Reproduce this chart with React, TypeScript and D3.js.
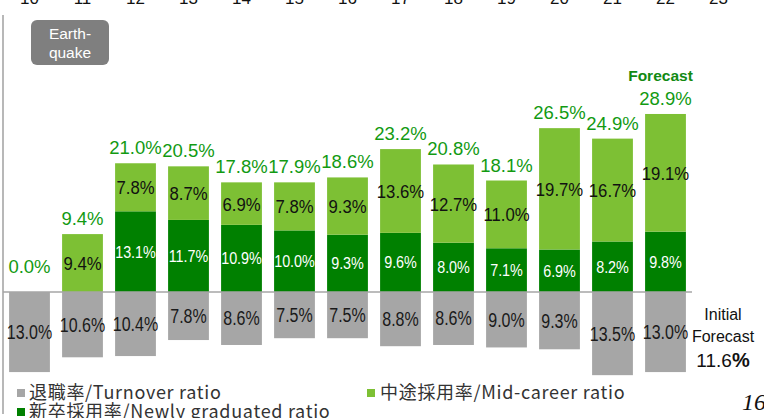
import React from "react"
import * as d3 from "d3"

// fiscal years shown along the top edge (cut off in the slide)
const yearLabels = ["10", "11", "12", "13", "14", "15", "16", "17", "18", "19", "20", "21", "22", "23"]
const barKeys = yearLabels.slice(0, 13)

const turnover = [13.0, 10.6, 10.4, 7.8, 8.6, 7.5, 7.5, 8.8, 8.6, 9.0, 9.3, 13.5, 13.0]
const newGrad = [0, 0, 13.1, 11.7, 10.9, 10.0, 9.3, 9.6, 8.0, 7.1, 6.9, 8.2, 9.8]
const midCareer = [0, 9.4, 7.8, 8.7, 6.9, 7.8, 9.3, 13.6, 12.7, 11.0, 19.7, 16.7, 19.1]
const totals = [0.0, 9.4, 21.0, 20.5, 17.8, 17.9, 18.6, 23.2, 20.8, 18.1, 26.5, 24.9, 28.9]

const initialForecast = 11.6

const GRAY = "#a6a6a6"
const DARK = "#008000"
const LIGHT = "#7dc034"
const TOTAL = "#129a12"

const W = 764
const H = 418
const FONT = "'Liberation Sans', Arial, sans-serif"
const CJK = "'Noto Sans CJK JP', 'Noto Sans CJK KR', sans-serif"

const fmt = (v: number) => v.toFixed(1) + "%"

// squeezed label, centred on x
function Squeezed({ x, y, s, size, fill, text }: { x: number; y: number; s: number; size: number; fill: string; text: string }) {
  return (
    <text
      transform={`translate(${x},${y}) scale(${s},1)`}
      textAnchor="middle"
      fontFamily={FONT}
      fontSize={size}
      fill={fill}
    >
      {text}
    </text>
  )
}

export default function App() {
  const x = d3.scaleBand<string>().domain(barKeys).range([3, 692]).paddingInner(0.23).paddingOuter(0.115)
  const y = d3.scaleLinear().domain([-15, 30]).range([292 + 15 * 6.16, 292 - 30 * 6.16])
  const bw = x.bandwidth()
  const cx = (k: string) => (x(k) as number) + bw / 2

  return (
    <svg width={W} height={H} style={{ position: "absolute", left: 0, top: 0, background: "#fff" }}>
      {/* year row, clipped at the top */}
      {yearLabels.map((lab, i) => (
        <text
          key={"yr" + lab}
          x={i < barKeys.length ? cx(barKeys[i]) : cx(barKeys[barKeys.length - 1]) + x.step()}
          y={4}
          textAnchor="middle"
          fontFamily={FONT}
          fontSize={17}
          fill="#111"
        >
          {lab}
        </text>
      ))}

      {/* left rule */}
      <line x1={3} x2={3} y1={15} y2={414} stroke="#a0a0a0" strokeWidth={1.5} />

      {/* earthquake tag */}
      <rect x={31} y={20} width={78} height={45} rx={6} fill="#7f7f7f" />
      <text x={70} y={39} textAnchor="middle" fontFamily={FONT} fontSize={15.5} fill="#fff">Earth-</text>
      <text x={70} y={58} textAnchor="middle" fontFamily={FONT} fontSize={15.5} fill="#fff">quake</text>

      {barKeys.map((k, i) => {
        const x0 = x(k) as number
        const y0 = y(0)
        const yDark = y(newGrad[i])
        const yTop = y(newGrad[i] + midCareer[i])
        const yBot = y(-turnover[i])
        return (
          <g key={k}>
            <rect x={x0} y={y0} width={bw} height={yBot - y0} fill={GRAY} />
            {newGrad[i] > 0 && <rect x={x0} y={yDark} width={bw} height={y0 - yDark} fill={DARK} />}
            {midCareer[i] > 0 && <rect x={x0} y={yTop} width={bw} height={yDark - yTop} fill={LIGHT} />}
          </g>
        )
      })}

      {/* zero line */}
      <line x1={3} x2={692} y1={y(0)} y2={y(0)} stroke="#a6a6a6" strokeWidth={1.5} />

      {barKeys.map((k, i) => {
        const c = cx(k)
        const y0 = y(0)
        const yDark = y(newGrad[i])
        const yTop = y(newGrad[i] + midCareer[i])
        const yBot = y(-turnover[i])
        return (
          <g key={"lab" + k}>
            <Squeezed x={c} y={(y0 + yBot) / 2 + 7} s={0.8} size={20} fill="#1a1a1a" text={fmt(turnover[i])} />
            {newGrad[i] > 0 && (
              <Squeezed x={c} y={(y0 + yDark) / 2 + 6} s={0.87} size={16.5} fill="#fff" text={fmt(newGrad[i])} />
            )}
            {midCareer[i] > 0 && (
              <Squeezed x={c} y={(yDark + yTop) / 2 + 7} s={0.88} size={19} fill="#111" text={fmt(midCareer[i])} />
            )}
            <text
              x={c}
              y={Math.min(yTop - 9, 273)}
              textAnchor="middle"
              fontFamily={FONT}
              fontSize={18.5}
              fill={TOTAL}
            >
              {fmt(totals[i])}
            </text>
          </g>
        )
      })}

      <text
        x={cx(barKeys[barKeys.length - 1]) - 5}
        y={81}
        textAnchor="middle"
        fontFamily={FONT}
        fontSize={15.5}
        fontWeight="bold"
        fill="#128a12"
      >
        Forecast
      </text>

      {/* initial forecast note */}
      <g fontFamily={FONT} fill="#111" textAnchor="middle">
        <text x={723} y={320} fontSize={16}>Initial</text>
        <text x={723} y={342} fontSize={16}>Forecast</text>
        <text x={723} y={367} fontSize={19}>
          {initialForecast.toFixed(1)}
          <tspan fontWeight="bold" fontSize={20}>%</tspan>
        </text>
      </g>

      {/* legend */}
      <g fontFamily={CJK} fontSize={18} letterSpacing={0.7} fill="#333">
        <rect x={17} y={389} width={8} height={8} fill={GRAY} />
        <text x={29} y={399}>退職率/Turnover ratio</text>
        <rect x={367} y={389} width={8} height={8} fill={LIGHT} />
        <text x={380} y={399}>中途採用率/Mid-career ratio</text>
        <rect x={17} y={408} width={8} height={8} fill={DARK} />
        <text x={29} y={418}>新卒採用率/Newly graduated ratio</text>
      </g>

      {/* page number */}
      <text x={742} y={410} fontFamily="'Liberation Serif', serif" fontStyle="italic" fontSize={24} fill="#111">16</text>
    </svg>
  )
}
